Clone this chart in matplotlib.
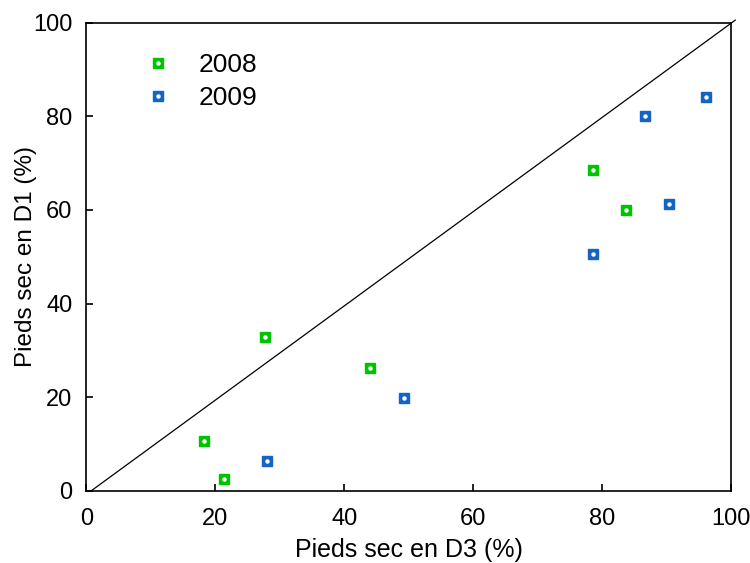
import matplotlib
matplotlib.use('Agg')
import matplotlib.pyplot as plt

plt.rcParams['font.family'] = ['Liberation Sans', 'DejaVu Sans']

# dry plants (%) in D3 vs D1
x_2008 = [18.2, 21.3, 27.7, 44.0, 78.6, 83.8]
y_2008 = [10.7, 2.6, 32.9, 26.3, 68.5, 60.0]
x_2009 = [28.0, 49.3, 78.6, 86.7, 90.4, 96.2]
y_2009 = [6.4, 19.9, 50.6, 80.0, 61.3, 84.1]

ref_x = [0.7, 100.7]
ref_y = [0.0, 100.5]

ticks = [0, 20, 40, 60, 80, 100]

fig = plt.figure(figsize=(7.5, 5.63), dpi=100)
ax = fig.add_axes([0.1153, 0.1279, 0.8590, 0.8321])

ax.plot(ref_x, ref_y, color='black', lw=0.9, clip_on=False, zorder=1)

handles = []
for xs, ys, col, lab in [(x_2008, y_2008, '#00c400', '2008'),
                         (x_2009, y_2009, '#1464c4', '2009')]:
    sq, = ax.plot(xs, ys, ls='none', marker='s', ms=7, mfc=col, mec=col, zorder=3)
    dot, = ax.plot(xs, ys, ls='none', marker='o', ms=2.2, mfc='white', mec='white', zorder=4)
    handles.append(((sq, dot), lab))

ax.set_xlim(0, 100)
ax.set_ylim(0, 100)
ax.set_xticks(ticks)
ax.set_yticks(ticks)
ax.tick_params(direction='in', length=5, width=1.2, labelsize=17)
ax.tick_params(axis='x', pad=12)
ax.tick_params(axis='y', pad=10)
for s in ax.spines.values():
    s.set_linewidth(1.2)

ax.set_xlabel('Pieds sec en D3 (%)', fontsize=18, labelpad=6)
ax.set_ylabel('Pieds sec en D1 (%)', fontsize=17.5, labelpad=-3)

ax.legend([h for h, _ in handles], [l for _, l in handles],
          loc='upper left', bbox_to_anchor=(0.053, 0.985), frameon=False,
          fontsize=19, handlelength=1.0, handletextpad=1.05, labelspacing=0.33)

fig.savefig('out.png', dpi=100)
